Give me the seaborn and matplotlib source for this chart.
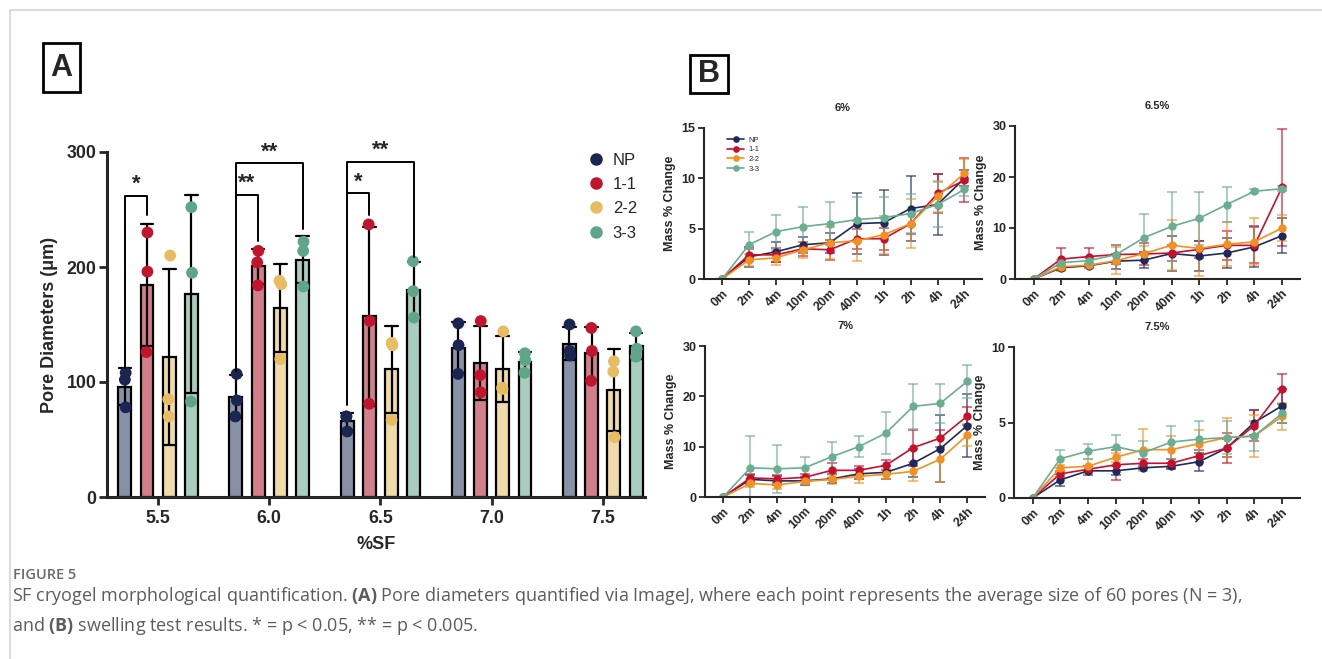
import numpy as np
import pandas as pd
import matplotlib
matplotlib.use('Agg')
import matplotlib.pyplot as plt
import seaborn as sns
from matplotlib.lines import Line2D
from matplotlib.patches import Rectangle

# ---- panel A: pore diameters, three replicates per bar ----
groups = ['NP', '1-1', '2-2', '3-3']
sf_levels = ['5.5', '6.0', '6.5', '7.0', '7.5']

pore_np = [[108, 102, 78], [107, 84, 70], [70, 70, 57], [151, 132, 107], [150, 127, 123]]
pore_11 = [[230, 196, 126], [214, 204, 184], [237, 153, 81], [153, 106, 91], [147, 127, 101]]
pore_22 = [[210, 85, 70], [188, 185, 120], [134, 132, 67], [144, 95, 94], [118, 109, 52]]
pore_33 = [[252, 195, 83], [222, 214, 183], [205, 179, 156], [125, 119, 108], [144, 129, 122]]

# significance brackets: (sf index, group a, group b, bracket height, left leg end, right leg end, label)
sig_brackets = [
    (0, 0, 1, 262, 112, 245, '*'),
    (1, 0, 1, 263, 110, 223, '**'),
    (1, 0, 3, 290, 263, 233, '**'),
    (2, 0, 1, 264, 80, 245, '*'),
    (2, 0, 3, 291, 264, 209, '**'),
]

# ---- panel B: swelling, mean and sd ----
times = ['0m', '2m', '4m', '10m', '20m', '40m', '1h', '2h', '4h', '24h']

sw6_np = [0, 2.2, 2.7, 3.4, 3.6, 5.5, 5.6, 7.0, 7.4, 10.0]
sw6_np_sd = [0, 1.0, 1.0, 0.8, 1.0, 3.0, 3.2, 3.2, 3.0, 0.8]
sw6_11 = [0, 2.4, 2.4, 3.0, 2.9, 4.0, 4.0, 5.5, 8.5, 9.8]
sw6_11_sd = [0, 0.6, 0.7, 0.7, 1.0, 1.0, 1.1, 1.0, 1.9, 2.2]
sw6_22 = [0, 1.9, 2.1, 2.9, 3.6, 3.8, 4.4, 5.5, 8.2, 10.5]
sw6_22_sd = [0, 0.6, 0.7, 0.8, 1.6, 2.0, 1.9, 2.4, 1.5, 1.4]
sw6_33 = [0, 3.4, 4.7, 5.2, 5.5, 5.9, 6.1, 6.5, 7.4, 8.9]
sw6_33_sd = [0, 1.3, 1.7, 2.0, 2.1, 2.2, 2.0, 1.9, 2.2, 0.7]

sw65_np = [0, 2.2, 2.6, 3.5, 3.7, 5.0, 4.5, 5.1, 6.3, 8.5]
sw65_np_sd = [0, 0.4, 0.4, 1.5, 1.5, 3.4, 3.0, 3.0, 4.0, 3.4]
sw65_11 = [0, 3.9, 4.4, 4.8, 4.9, 5.1, 5.8, 6.6, 6.6, 18.0]
sw65_11_sd = [0, 2.1, 1.7, 1.9, 2.1, 1.5, 1.7, 2.9, 3.5, 11.5]
sw65_22 = [0, 2.4, 2.7, 3.6, 5.0, 6.6, 6.0, 6.8, 7.3, 10.0]
sw65_22_sd = [0, 0.8, 0.5, 2.6, 1.5, 4.9, 5.5, 4.3, 4.6, 2.5]
sw65_33 = [0, 3.2, 3.6, 4.8, 8.1, 10.3, 11.9, 14.6, 17.2, 17.7]
sw65_33_sd = [0, 0.5, 0.6, 1.8, 4.6, 6.8, 5.2, 3.4, 0.4, 0.5]

sw7_np = [0, 3.5, 3.2, 3.2, 3.6, 4.6, 4.9, 6.7, 9.6, 14.2]
sw7_np_sd = [0, 0.9, 0.9, 0.8, 0.9, 1.0, 1.3, 2.8, 6.6, 6.3]
sw7_11 = [0, 3.8, 3.6, 3.9, 5.3, 5.3, 6.3, 9.8, 11.7, 16.1]
sw7_11_sd = [0, 0.8, 0.8, 0.7, 1.5, 0.9, 1.0, 3.6, 1.7, 1.7]
sw7_22 = [0, 2.7, 2.4, 3.1, 3.5, 4.1, 4.5, 5.1, 7.5, 12.3]
sw7_22_sd = [0, 0.8, 0.8, 0.6, 0.9, 1.3, 1.0, 1.9, 4.5, 2.2]
sw7_33 = [0, 5.8, 5.6, 5.8, 8.0, 10.0, 12.7, 18.0, 18.6, 23.0]
sw7_33_sd = [0, 6.4, 4.8, 2.2, 3.0, 2.1, 4.1, 4.4, 3.8, 3.3]

sw75_np = [0, 1.2, 1.8, 1.8, 2.0, 2.1, 2.4, 3.3, 5.0, 6.1]
sw75_np_sd = [0, 0.4, 0.3, 0.3, 0.1, 0.2, 0.6, 0.6, 0.8, 1.1]
sw75_11 = [0, 1.6, 1.9, 2.2, 2.3, 2.3, 2.8, 3.3, 4.8, 7.2]
sw75_11_sd = [0, 0.2, 0.2, 1.0, 0.3, 0.3, 0.4, 1.0, 1.0, 1.0]
sw75_22 = [0, 2.0, 2.1, 2.7, 3.2, 3.2, 3.6, 4.0, 4.1, 5.4]
sw75_22_sd = [0, 0.2, 0.5, 0.3, 1.4, 0.9, 0.9, 1.3, 1.4, 0.9]
sw75_33 = [0, 2.6, 3.1, 3.4, 3.0, 3.7, 3.9, 4.0, 4.1, 5.6]
sw75_33_sd = [0, 0.6, 0.5, 0.8, 0.8, 1.1, 1.2, 1.1, 1.0, 0.6]

bar_fill = ['#8792A8', '#D37F8B', '#EFDAA8', '#A9CDBF']
dot_colors = ['#1A2550', '#C3142D', '#E9BC62', '#5FA58A']
line_colors = ['#1F2A5C', '#C8102E', '#F39021', '#6AAE92']

sns.set_style('ticks')
plt.rcParams['font.family'] = ['Liberation Sans', 'DejaVu Sans']
plt.rcParams['mathtext.fontset'] = 'custom'
plt.rcParams['mathtext.rm'] = 'Open Sans'
plt.rcParams['mathtext.bf'] = 'Open Sans:bold'

W, H = 1322, 659
fig = plt.figure(figsize=(W / 100, H / 100), dpi=100)

def fx(px):
    return px / W

def fy(py):
    return 1 - py / H

# ---------------- panel A ----------------
rows = []
for g, vals in zip(groups, [pore_np, pore_11, pore_22, pore_33]):
    for lvl, reps in zip(sf_levels, vals):
        for v in reps:
            rows.append((lvl, g, v))
pore = pd.DataFrame(rows, columns=['sf', 'group', 'diameter'])

axA = fig.add_axes([fx(107), fy(497), fx(645 - 107), (497 - 152) / H])
sns.barplot(data=pore, x='sf', y='diameter', hue='group', order=sf_levels, hue_order=groups,
            palette=bar_fill, saturation=1, errorbar='sd', capsize=0.45, gap=0.42,
            edgecolor='black', linewidth=1.6, err_kws={'color': 'black', 'linewidth': 1.6},
            legend=False, ax=axA)
np.random.seed(4)
sns.stripplot(data=pore, x='sf', y='diameter', hue='group', order=sf_levels, hue_order=groups,
              palette=dot_colors, dodge=True, jitter=0.035, size=8.5, linewidth=0,
              legend=False, ax=axA, zorder=4)

axA.set_ylim(0, 300)
axA.set_yticks([0, 100, 200, 300])
axA.set_xlim(-0.46, 4.38)
axA.set_xlabel('%SF', fontsize=13, fontweight='bold', labelpad=6)
axA.set_ylabel('Pore Diameters (\u03bcm)', fontsize=13, fontweight='bold', labelpad=6)
for s in ['top', 'right']:
    axA.spines[s].set_visible(False)
for s in ['left', 'bottom']:
    axA.spines[s].set_linewidth(2.2)
axA.tick_params(width=2, length=6, labelsize=12.8)
axA.tick_params(axis='y', pad=1.5)
for lab in axA.get_xticklabels() + axA.get_yticklabels():
    lab.set_fontweight('bold')

slot = 0.8 / len(groups)
for cat, ga, gb, h, lb, rb, lab in sig_brackets:
    xa = cat + (ga - 1.5) * slot
    xb = cat + (gb - 1.5) * slot
    axA.plot([xa, xa, xb, xb], [lb, h, h, rb], color='black', lw=1.4, clip_on=False, zorder=5)
    axA.text((xa + xb) / 2, h + 1, lab, ha='center', va='bottom', fontsize=16,
             fontweight='bold', clip_on=False)

handles = [Line2D([], [], marker='o', ls='', color=c, markersize=8) for c in dot_colors]
axA.legend(handles, groups, loc='upper left', bbox_to_anchor=(fx(586), fy(153)),
           bbox_transform=fig.transFigure, frameon=False, fontsize=12,
           handletextpad=0.4, labelspacing=0.55, handlelength=1.2, borderpad=0, borderaxespad=0)

# ---------------- panel B ----------------
panels = [
    ('6%', [sw6_np, sw6_11, sw6_22, sw6_33], [sw6_np_sd, sw6_11_sd, sw6_22_sd, sw6_33_sd],
     [0, 5, 10, 15], [704, 279, 982, 128]),
    ('6.5%', [sw65_np, sw65_11, sw65_22, sw65_33], [sw65_np_sd, sw65_11_sd, sw65_22_sd, sw65_33_sd],
     [0, 10, 20, 30], [1015, 279, 1300, 126]),
    ('7%', [sw7_np, sw7_11, sw7_22, sw7_33], [sw7_np_sd, sw7_11_sd, sw7_22_sd, sw7_33_sd],
     [0, 10, 20, 30], [705, 497, 985, 346]),
    ('7.5%', [sw75_np, sw75_11, sw75_22, sw75_33], [sw75_np_sd, sw75_11_sd, sw75_22_sd, sw75_33_sd],
     [0, 5, 10], [1014, 498, 1300, 347]),
]

tpos = np.arange(len(times))
for i, (title, means, sds, yt, box) in enumerate(panels):
    l, b, r, t = box
    ax = fig.add_axes([fx(l), fy(b), fx(r - l), (b - t) / H])
    sw = pd.DataFrame({
        't': np.tile(tpos, len(groups)),
        'group': np.repeat(groups, len(times)),
        'mass': np.concatenate(means),
    })
    for g, m, sd, c in zip(groups, means, sds, line_colors):
        ax.errorbar(tpos, m, yerr=sd, fmt='none', ecolor=c, elinewidth=1.1, capsize=3.5,
                    capthick=1.1, alpha=0.75, zorder=1)
    sns.lineplot(data=sw, x='t', y='mass', hue='group', hue_order=groups, palette=line_colors,
                 marker='o', markersize=6, markeredgewidth=0, linewidth=1.2,
                 legend=(i == 0), ax=ax, zorder=2)
    ax.set_xlim(-0.67, 9.65)
    ax.set_ylim(yt[0], yt[-1])
    ax.set_yticks(yt)
    ax.set_xticks(tpos)
    ax.set_xticklabels(times, rotation=45, ha='right', rotation_mode='anchor')
    ax.set_xlabel('')
    ax.set_ylabel('Mass % Change', fontsize=9, fontweight='bold', labelpad=4)
    ax.set_title(title, fontsize=8, fontweight='bold', pad=12)
    for s in ['top', 'right']:
        ax.spines[s].set_visible(False)
    for s in ['left', 'bottom']:
        ax.spines[s].set_linewidth(1.5)
    ax.tick_params(width=1.3, length=4, labelsize=9, pad=2)
    for lab in ax.get_xticklabels() + ax.get_yticklabels():
        lab.set_fontweight('bold')
    if i == 0:
        ax.legend(loc='upper left', bbox_to_anchor=(0.07, 0.97), frameon=False, fontsize=5.5,
                  labelspacing=0.3, handlelength=2.2, handletextpad=0.6, borderpad=0,
                  markerscale=0.8)

# ---------------- panel labels, frame, caption ----------------
for lab, (x0, y0, x1, y1) in [('A', (43, 43, 80, 92)), ('B', (690, 55, 728, 93))]:
    fig.add_artist(Rectangle((fx(x0), fy(y1)), fx(x1 - x0), (y1 - y0) / H,
                             transform=fig.transFigure, fill=False, lw=2, ec='black'))
    fig.text(fx((x0 + x1) / 2), fy((y0 + y1) / 2), lab, ha='center', va='center',
             fontsize=22, fontweight='bold')

fig.add_artist(Line2D([fx(10), 1], [fy(10), fy(10)], transform=fig.transFigure,
                      color='#d5d5d5', lw=1.2))
fig.add_artist(Line2D([fx(10), fx(10)], [0, fy(10)], transform=fig.transFigure,
                      color='#d5d5d5', lw=1.2))

cap_color = '#5c5c5c'
fig.text(fx(13), fy(575), 'FIGURE 5', ha='left', va='center', fontsize=10.5,
         family='Open Sans', fontweight='semibold', color='#6a6a6a')
fig.text(fx(12), fy(596),
         'SF cryogel morphological quantification. $\\mathbf{(A)}$ Pore diameters quantified via ImageJ, '
         'where each point represents the average size of 60 pores (N = 3),',
         ha='left', va='center', fontsize=13, family='Open Sans', color=cap_color)
fig.text(fx(12), fy(626),
         'and $\\mathbf{(B)}$ swelling test results. * = p < 0.05, ** = p < 0.005.',
         ha='left', va='center', fontsize=13, family='Open Sans', color=cap_color)

fig.savefig('out.png', dpi=100)
